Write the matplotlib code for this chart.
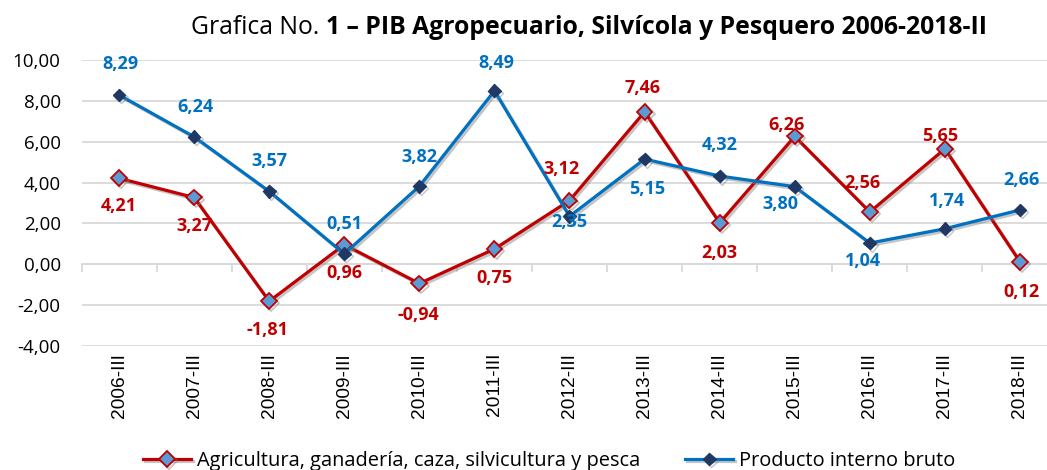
import matplotlib
matplotlib.use("Agg")
import matplotlib.pyplot as plt
import matplotlib.patheffects as pe

categories = ["2006-III", "2007-III", "2008-III", "2009-III", "2010-III", "2011-III",
              "2012-III", "2013-III", "2014-III", "2015-III", "2016-III", "2017-III", "2018-III"]
agro = [4.21, 3.27, -1.81, 0.96, -0.94, 0.75, 3.12, 7.46, 2.03, 6.26, 2.56, 5.65, 0.12]
pib = [8.29, 6.24, 3.57, 0.51, 3.82, 8.49, 2.35, 5.15, 4.32, 3.80, 1.04, 1.74, 2.66]
yticks = [-4, -2, 0, 2, 4, 6, 8, 10]

# label offsets in pixels (dx, dy; dy positive = up)
agro_off = [(0, -28), (0, -29), (-2, -29), (0, -28), (-1, -32), (0, -29), (-8, 32),
            (-2, 24), (0, -30), (-8, 11), (-7, 29), (-5, 13), (2, -30)]
pib_off = [(1, 31), (1, 30), (0, 30), (0, 30), (0, 29), (2, 28), (0, -6),
           (3, -30), (0, 31), (-14, -17), (-7, -18), (2, 28), (2, 30)]

RED = "#C00000"
BLUE = "#0070C0"
NAVY = "#1F3864"
LBLUE = "#5B9BD5"
FONT = "Open Sans"

W, H = 1047, 470
fig = plt.figure(figsize=(W / 100, H / 100), dpi=100)
left_px, right_px, top_px, bot_px = 81.5, 1057.5, 60, 346
ax = fig.add_axes([left_px / W, 1 - bot_px / H, (right_px - left_px) / W, (bot_px - top_px) / H])

x = list(range(len(categories)))
shadow = [pe.SimpleLineShadow(offset=(1.5, -1.5), shadow_color="gray", alpha=0.45), pe.Normal()]
ax.plot(x, agro, color=RED, lw=2.3, marker="D", ms=8, mfc=LBLUE, mec=RED, mew=1.3,
        path_effects=shadow, zorder=4, label="Agricultura, ganadería, caza, silvicultura y pesca")
ax.plot(x, pib, color=BLUE, lw=2.3, marker="D", ms=6.5, mfc=NAVY, mec=NAVY, mew=1,
        path_effects=shadow, zorder=5, label="Producto interno bruto")

ax.set_xlim(-0.5, len(categories) - 0.5)
ax.set_ylim(-4, 10)
ax.set_yticks(yticks)
ax.set_yticklabels([f"{v:.2f}".replace(".", ",") for v in yticks], family=FONT, fontsize=13.5)
ax.tick_params(axis="y", length=0, pad=15)
ax.set_xticks(x)
ax.set_xticklabels(categories, rotation=90, family="Liberation Sans", fontsize=13.8)
ax.tick_params(axis="x", length=0, pad=5)
ax.grid(axis="y", color="#D9D9D9", lw=1.3)
ax.set_axisbelow(True)
for s in ax.spines.values():
    s.set_visible(False)

# zero axis with tick marks between categories
sec = ax.secondary_xaxis(4 / 14)
sec.set_xticks([i - 0.5 for i in range(len(categories) + 1)])
sec.set_xticklabels([])
sec.tick_params(axis="x", direction="out", length=6, color="#D9D9D9", width=1.3)
sec.spines["bottom"].set_color("#D9D9D9")
sec.spines["bottom"].set_linewidth(1.3)
for k in ["top", "left", "right"]:
    if k in sec.spines:
        sec.spines[k].set_visible(False)

def fmt(v):
    return f"{v:.2f}".replace(".", ",")

for i, v in enumerate(agro):
    dx, dy = agro_off[i]
    ax.annotate(fmt(v), (i, v), xytext=(dx, dy), textcoords="offset pixels",
                ha="center", va="center", color=RED, fontsize=13, fontweight="bold",
                family=FONT, zorder=6)
for i, v in enumerate(pib):
    dx, dy = pib_off[i]
    ax.annotate(fmt(v), (i, v), xytext=(dx, dy), textcoords="offset pixels",
                ha="center", va="center", color=BLUE, fontsize=13, fontweight="bold",
                family=FONT, zorder=6)

# title
split_x = 326 / W
ty = 1 - 28 / H
fig.text(split_x, ty, "Grafica No. ", ha="right", va="center", fontsize=17.8, family=FONT)
fig.text(split_x, ty, "1 – PIB Agropecuario, Silvícola y Pesquero 2006-2018-II", ha="left",
         va="center", fontsize=17.8, family=FONT, fontweight="bold")

leg = fig.legend(loc="center left", bbox_to_anchor=(143 / W, 1 - 461 / H), ncol=2, frameon=False,
                 prop={"family": FONT, "size": 14.4}, handlelength=2.4, handletextpad=0.3,
                 columnspacing=2.25, borderpad=0, borderaxespad=0)
for t in leg.get_texts():
    t.set_color("#000000")

fig.savefig("out.png", dpi=100)
